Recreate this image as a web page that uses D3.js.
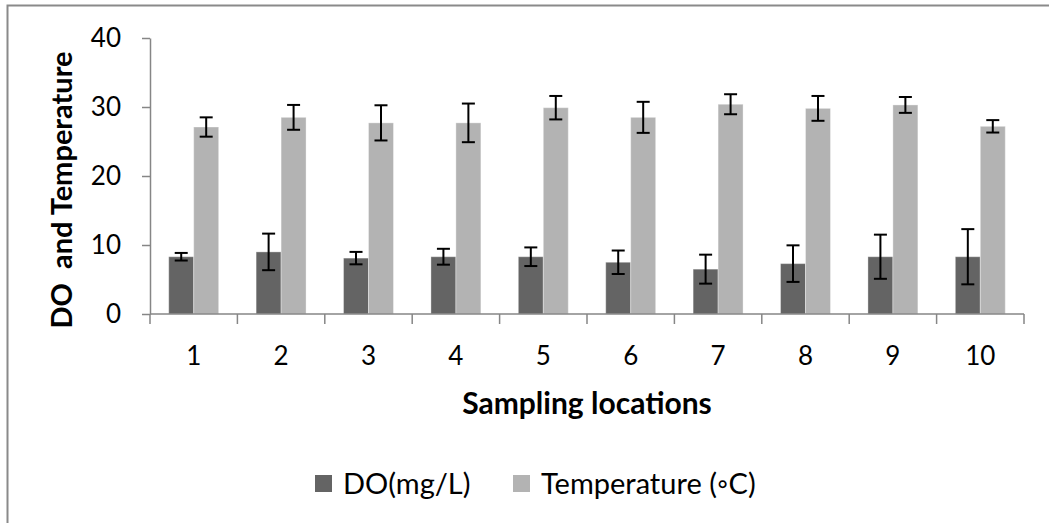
<!DOCTYPE html>
<html>
<head>
<meta charset="utf-8">
<script src="https://cdn.jsdelivr.net/npm/d3@7"></script>
<style>
  html, body { margin: 0; padding: 0; background: #fff; }
  svg { display: block; font-family: Lato, "Open Sans", sans-serif; }
</style>
</head>
<body>
<svg id="chart" width="1049" height="523"></svg>
<script>
// Sampling locations along the x axis
const locations = ["1", "2", "3", "4", "5", "6", "7", "8", "9", "10"];
// Series names as shown in the legend
const seriesNames = ["DO(mg/L)", "Temperature (\u25E6C)"];
// Dissolved oxygen means and standard deviations
const doValues = [8.3, 9.0, 8.1, 8.3, 8.3, 7.5, 6.5, 7.3, 8.3, 8.3];
const doErrors = [0.55, 2.65, 0.9, 1.15, 1.35, 1.7, 2.1, 2.65, 3.2, 4.0];
// Temperature means and standard deviations
const tempValues = [27.1, 28.5, 27.7, 27.7, 29.9, 28.5, 30.4, 29.8, 30.3, 27.2];
const tempErrors = [1.4, 1.8, 2.55, 2.8, 1.7, 2.25, 1.45, 1.8, 1.15, 0.9];
// Value axis ticks
const yTicks = [0, 10, 20, 30, 40];

const colors = ["#646464", "#b3b3b3"];
const axisColor = "#868686";

const svg = d3.select("#chart");

// Outer chart frame (runs off the right and bottom edges)
svg.append("rect")
  .attr("x", 7.5).attr("y", 5.5)
  .attr("width", 1100).attr("height", 600)
  .attr("fill", "none")
  .attr("stroke", "#8a8a8a")
  .attr("stroke-width", 2);

const plot = { left: 150, right: 1024, top: 38, bottom: 314 };

const x = d3.scaleBand()
  .domain(locations)
  .range([plot.left, plot.right])
  .padding(0);

const xInner = d3.scaleBand()
  .domain(seriesNames)
  .range([0, x.bandwidth()])
  .paddingInner(0)
  .paddingOuter(0.75);

const y = d3.scaleLinear()
  .domain([0, 40])
  .range([plot.bottom, plot.top]);

const rows = locations.map((loc, i) => ({
  loc,
  items: [
    { key: seriesNames[0], value: doValues[i], err: doErrors[i], color: colors[0] },
    { key: seriesNames[1], value: tempValues[i], err: tempErrors[i], color: colors[1] }
  ]
}));

// Bars
const groups = svg.append("g").selectAll("g")
  .data(rows)
  .join("g")
  .attr("transform", d => `translate(${x(d.loc)},0)`);

groups.selectAll("rect")
  .data(d => d.items)
  .join("rect")
  .attr("x", d => xInner(d.key))
  .attr("width", xInner.bandwidth())
  .attr("y", d => y(d.value))
  .attr("height", d => y(0) - y(d.value))
  .attr("fill", d => d.color)
  .attr("stroke", "#ffffff")
  .attr("stroke-opacity", 0.35)
  .attr("stroke-width", 1);

// Error bars
const capHalf = 6.5;
const eb = groups.selectAll("g.err")
  .data(d => d.items)
  .join("g")
  .attr("class", "err")
  .attr("stroke", "#000")
  .attr("stroke-width", 2);

eb.append("line")
  .attr("x1", d => xInner(d.key) + xInner.bandwidth() / 2)
  .attr("x2", d => xInner(d.key) + xInner.bandwidth() / 2)
  .attr("y1", d => y(d.value + d.err))
  .attr("y2", d => y(d.value - d.err));
eb.append("line")
  .attr("x1", d => xInner(d.key) + xInner.bandwidth() / 2 - capHalf)
  .attr("x2", d => xInner(d.key) + xInner.bandwidth() / 2 + capHalf)
  .attr("y1", d => y(d.value + d.err))
  .attr("y2", d => y(d.value + d.err));
eb.append("line")
  .attr("x1", d => xInner(d.key) + xInner.bandwidth() / 2 - capHalf)
  .attr("x2", d => xInner(d.key) + xInner.bandwidth() / 2 + capHalf)
  .attr("y1", d => y(d.value - d.err))
  .attr("y2", d => y(d.value - d.err));

// Y axis
const yAxis = svg.append("g")
  .attr("transform", `translate(${plot.left},0)`)
  .call(d3.axisLeft(y).tickValues(yTicks).tickSize(8).tickPadding(21).tickSizeOuter(0));
yAxis.select(".domain").attr("stroke", axisColor).attr("stroke-width", 1.5);
yAxis.selectAll(".tick line").attr("stroke", axisColor).attr("stroke-width", 1.5);
yAxis.selectAll(".tick text")
  .attr("fill", "#000")
  .style("font-size", "26px")
  .style("font-family", "Lato, 'Open Sans', sans-serif");

// X axis: line plus ticks at category boundaries
const xAxis = svg.append("g").attr("transform", `translate(0,${plot.bottom})`);
xAxis.append("line")
  .attr("x1", plot.left).attr("x2", plot.right)
  .attr("stroke", axisColor).attr("stroke-width", 1.5);
const boundaries = locations.map(l => x(l)).concat([x(locations[locations.length - 1]) + x.bandwidth()]);
xAxis.selectAll("line.bt")
  .data(boundaries)
  .join("line")
  .attr("class", "bt")
  .attr("x1", d => d).attr("x2", d => d)
  .attr("y1", 0).attr("y2", 10)
  .attr("stroke", axisColor).attr("stroke-width", 1.5);
xAxis.selectAll("text")
  .data(locations)
  .join("text")
  .attr("x", d => x(d) + x.bandwidth() / 2)
  .attr("y", 51)
  .attr("text-anchor", "middle")
  .style("font-size", "26px")
  .text(d => d);

// Axis titles
svg.append("text")
  .attr("x", (plot.left + plot.right) / 2)
  .attr("y", 414)
  .attr("text-anchor", "middle")
  .style("font-size", "30px")
  .style("font-weight", "bold")
  .text("Sampling locations");

svg.append("text")
  .attr("transform", "translate(72,190) rotate(-90)")
  .attr("text-anchor", "middle")
  .style("font-size", "29px")
  .style("font-weight", "bold")
  .attr("xml:space", "preserve")
  .text("DO  and Temperature");

// Legend
const legendItems = [
  { name: seriesNames[0], color: colors[0], x: 315 },
  { name: seriesNames[1], color: colors[1], x: 513 }
];
const legend = svg.append("g").selectAll("g")
  .data(legendItems)
  .join("g")
  .attr("transform", d => `translate(${d.x},475)`);
legend.append("rect")
  .attr("width", 17).attr("height", 17)
  .attr("fill", d => d.color);
legend.append("text")
  .attr("x", 28).attr("y", 19)
  .style("font-size", "29px")
  .text(d => d.name);
</script>
</body>
</html>
